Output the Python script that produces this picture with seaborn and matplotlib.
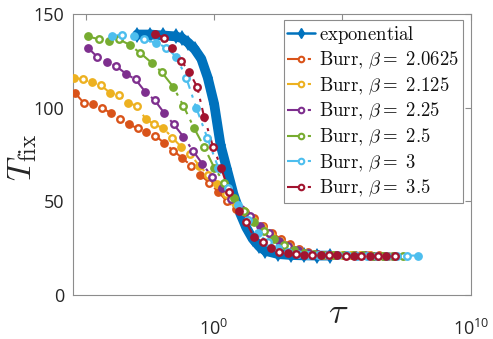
import numpy as np
import pandas as pd
import seaborn as sns
import matplotlib.pyplot as plt
from matplotlib.lines import Line2D

# gaya dasar
sns.set_style("white")
plt.rcParams['font.family'] = ['Open Sans', 'DejaVu Sans']
plt.rcParams['mathtext.fontset'] = 'custom'
plt.rcParams['mathtext.rm'] = 'Open Sans'
plt.rcParams['mathtext.it'] = 'Open Sans:italic'

# data: log10(tau) dan T_fix tiap seri
exp_logtau = [-3.0, -2.5, -2.0, -1.5, -1.25, -1.0, -0.75, -0.5, -0.25, 0.0, 0.25, 0.5,
              0.75, 1.0, 1.25, 1.5, 1.75, 2.0, 2.5, 3.0, 3.5, 4.0, 4.5]
exp_T = [139, 139, 138.5, 138, 137, 134.5, 131, 126, 116, 102, 80, 67,
         54, 44, 36, 30, 26, 23.5, 21.8, 21.3, 21.1, 21.0, 21.0]

b1_logtau = [-5.43, -5.08, -4.73, -4.38, -4.03, -3.68, -3.33, -2.98, -2.64, -2.29, -1.94, -1.59,
             -1.24, -0.89, -0.54, -0.19, 0.16, 0.50, 0.85, 1.20, 1.55, 1.90, 2.25, 2.60,
             2.95, 3.29, 3.64, 3.99, 4.34, 4.69, 5.04, 5.39, 5.74, 6.09, 6.43, 6.78]
b1_T = [108, 102.5, 102, 100, 97, 94, 91, 89, 87, 85, 81, 77,
        73, 69, 64, 60, 55, 50, 46, 44, 41, 37, 33, 30,
        27, 24.5, 23, 22, 21.5, 21.3, 21.2, 21.2, 21.1, 21.1, 21.1, 21.0]

b2_logtau = [-5.47, -5.12, -4.77, -4.42, -4.07, -3.72, -3.37, -3.02, -2.67, -2.33, -1.98, -1.63,
             -1.28, -0.93, -0.58, -0.23, 0.12, 0.47, 0.81, 1.16, 1.51, 1.86, 2.21, 2.56,
             2.91, 3.26, 3.60, 3.95, 4.30, 4.65, 5.00, 5.35, 5.70, 6.05, 6.40, 6.74]
b2_T = [116, 115, 113.5, 112, 108, 106.5, 102.5, 101, 94, 91, 89, 84,
        79, 75, 69, 64, 59, 54, 49, 45, 40, 36, 32, 29,
        26, 24, 22.5, 21.8, 21.4, 21.3, 21.2, 21.2, 21.1, 21.1, 21.0, 21.0]

b3_logtau = [-4.92, -4.55, -4.18, -3.81, -3.43, -3.06, -2.69, -2.32, -1.94, -1.57, -1.20, -0.83,
             -0.46, -0.08, 0.29, 0.66, 1.03, 1.41, 1.78, 2.15, 2.52, 2.89, 3.27, 3.64,
             4.01, 4.38, 4.75, 5.13, 5.50, 5.87, 6.24, 6.61, 6.98]
b3_T = [132, 127, 124.5, 122, 118, 115, 108.5, 104, 97, 91, 84.5, 77,
        70, 63, 57, 51, 46, 42, 37, 33, 29, 26, 24, 22.5,
        21.8, 21.4, 21.3, 21.2, 21.1, 21.1, 21.0, 21.0, 21.0]

b4_logtau = [-4.92, -4.50, -4.11, -3.72, -3.29, -2.87, -2.44, -2.05, -1.59, -1.20, -0.78, -0.39,
             0.0, 0.39, 0.78, 1.16, 1.55, 1.94, 2.33, 2.71, 3.10, 3.49, 3.88, 4.26,
             4.65, 5.04, 5.43, 5.81, 6.20, 6.59, 6.98, 7.36]
b4_T = [138, 136.5, 135.5, 136.5, 133.5, 129, 124, 119, 111, 101, 89, 79,
        68, 60, 52, 45, 39, 34, 30, 26.5, 24, 22.5, 21.8, 21.4,
        21.3, 21.2, 21.1, 21.1, 21.0, 21.0, 21.0, 21.0]

b5_logtau = [-3.99, -3.60, -3.14, -2.75, -2.25, -1.86, -1.47, -1.09, -0.70, -0.27, 0.16, 0.54,
             0.93, 1.32, 1.71, 2.09, 2.48, 2.87, 3.26, 3.64, 4.03, 4.42, 4.81, 5.19,
             5.58, 5.97, 6.36, 6.74, 7.13, 7.52, 7.95]
b5_T = [138, 139, 138, 136.5, 134.5, 132, 127, 116, 100, 84, 68, 57,
        48, 40, 33, 28, 25, 23, 22, 21.5, 21.3, 21.2, 21.1, 21.1,
        21.0, 21.0, 21.0, 21.0, 21.0, 21.0, 21.0]

b6_logtau = [-2.29, -1.94, -1.63, -1.28, -0.97, -0.66, -0.39, -0.04, 0.27, 0.58, 0.97, 1.24,
             1.55, 1.90, 2.21, 2.52, 2.87, 3.18, 3.49, 3.80, 4.15, 4.46, 4.77, 5.12,
             5.43, 5.74, 6.09, 6.40, 6.71, 7.05]
b6_T = [139.5, 137, 132, 125, 119, 111, 95, 79, 68, 55, 45, 39,
        31, 28, 25, 23, 22.4, 21.8, 21.5, 21.3, 21.2, 21.1, 21.1, 21.0,
        21.0, 21.0, 21.0, 21.0, 21.0, 21.0]

betas = ['2.0625', '2.125', '2.25', '2.5', '3', '3.5']
burr_data = [(b1_logtau, b1_T), (b2_logtau, b2_T), (b3_logtau, b3_T),
             (b4_logtau, b4_T), (b5_logtau, b5_T), (b6_logtau, b6_T)]

# warna default MATLAB
c_exp = '#0072BD'
burr_colors = ['#D95319', '#EDB120', '#7E2F8E', '#77AC30', '#4DBEEE', '#A2142F']
dashdot = (0, (7, 3, 1.5, 3))

fig = plt.figure(figsize=(4.93, 3.39), dpi=100)
ax = fig.add_axes([0.148, 0.13, 0.807, 0.829])

# kurva eksponensial (pita tebal)
df_exp = pd.DataFrame({'tau': 10 ** np.array(exp_logtau), 'T': exp_T})
sns.lineplot(data=df_exp, x='tau', y='T', color=c_exp, lw=7, ax=ax, legend=False,
             marker='d', markersize=8, markeredgewidth=0)

# kurva Burr
for (lt, T), col in zip(burr_data, burr_colors):
    df = pd.DataFrame({'tau': 10 ** np.array(lt), 'T': T})
    sns.lineplot(data=df, x='tau', y='T', color=col, lw=1.5, ax=ax, legend=False,
                 linestyle=dashdot)
    filled = df.iloc[::2]
    hollow = df.iloc[1::2]
    sns.scatterplot(data=filled, x='tau', y='T', color=col, s=28, edgecolor=col,
                    linewidth=1.0, ax=ax, legend=False, zorder=3)
    sns.scatterplot(data=hollow, x='tau', y='T', facecolor='white', s=22, edgecolor=col,
                    linewidth=1.7, ax=ax, legend=False, zorder=3)

ax.set_xscale('log')
ax.set_xlim(10 ** -5.5, 1e10)
ax.set_ylim(0, 150)
ax.set_yticks([0, 50, 100, 150])
ax.set_xticks([1e-5, 1e0, 1e5, 1e10])
ax.set_xticklabels(['', r'$10^{0}$', '', r'$10^{10}$'])
ax.minorticks_off()
ax.tick_params(direction='in', length=4, width=0.8, colors='#8c8c8c',
               labelcolor='#262626', labelsize=13, top=True, right=True)
ax.tick_params(axis='x', pad=17)
ax.tick_params(axis='y', pad=6)
for s in ax.spines.values():
    s.set_color('#8c8c8c')
    s.set_linewidth(0.8)

ax.set_xlabel('')
ax.set_ylabel(r'$T_{\rm fix}$', fontsize=24, math_fontfamily='cm', color='#262626')
ax.yaxis.set_label_coords(-0.085, 0.49)
ax.text(0.666, -0.10, r'$\tau$', transform=ax.transAxes, fontsize=26,
        math_fontfamily='cm', ha='center', va='baseline', color='#262626')

# legenda
handles = [Line2D([], [], color=c_exp, lw=1.8, marker='d', markersize=5)]
labels = [r'$\mathrm{exponential}$']
for b, col in zip(betas, burr_colors):
    handles.append(Line2D([], [], color=col, lw=1.5, linestyle=dashdot,
                          marker='o', markersize=4, markerfacecolor='white',
                          markeredgewidth=1.5))
    labels.append(r'$\mathrm{Burr,}\,\beta{=}\ \mathrm{' + b + '}$')
leg = ax.legend(handles, labels, loc='upper right', bbox_to_anchor=(0.98, 0.979),
                borderaxespad=0, fontsize=13.5, frameon=True, fancybox=False,
                framealpha=1, edgecolor='#8c8c8c', handlelength=1.5,
                handletextpad=0.2, labelspacing=0.22, borderpad=0.2)
leg.get_frame().set_linewidth(0.8)
for t in leg.get_texts():
    t.set_math_fontfamily('cm')
    t.set_color('#111111')

fig.savefig('out.png', dpi=100)
